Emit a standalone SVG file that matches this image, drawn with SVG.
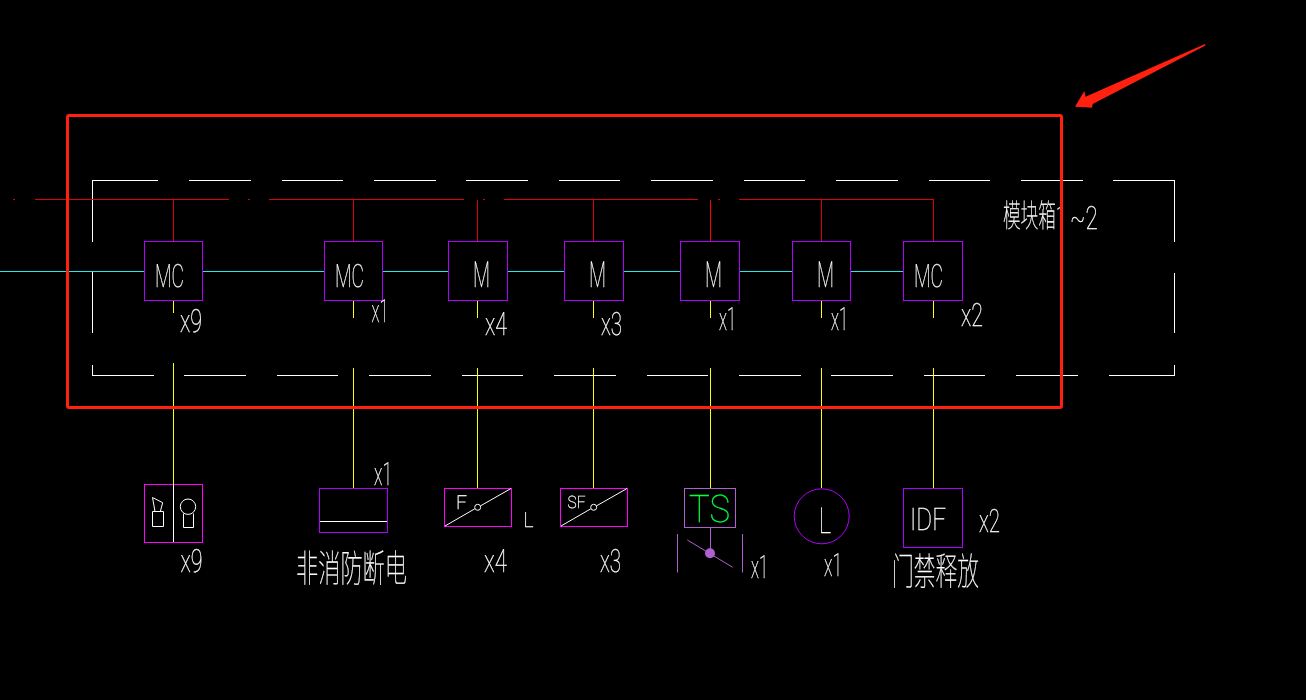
<svg xmlns="http://www.w3.org/2000/svg" width="1306" height="700" viewBox="0 0 1306 700">
<defs><filter id="n" filterUnits="userSpaceOnUse" x="0" y="0" width="1306" height="700" color-interpolation-filters="sRGB"><feOffset dx="0" dy="0"/></filter></defs>
<style>
text{fill:#fff;stroke:#fff;stroke-width:.3px;font-family:Roboto,"Liberation Sans",sans-serif;font-weight:100;text-rendering:geometricPrecision}
.c{font-family:"Noto Sans CJK SC","Noto Sans CJK SC Thin",sans-serif;font-weight:100;font-size:36px}
.t{font-size:32px}
.m{font-size:36px}
.l{fill:none;stroke-width:1;shape-rendering:crispEdges}
.w{stroke:#fff}.r{stroke:#e0000c}.y{stroke:#ff0}.b{stroke:#20e8f0}
.p{fill:none;stroke:#b000ff;shape-rendering:crispEdges}
.g{fill:none;stroke:#ff00ff;shape-rendering:crispEdges}
.s{fill:none;stroke:#fff}
</style>
<rect width="1306" height="700" fill="#000"/>
<g id="module-box" class="l w">
<path d="M92.5 242V180.5H158M189 180.5H251M282 180.5H343M374 180.5H436M466 180.5H528M559 180.5H620M651 180.5H713M744 180.5H805M836 180.5H898M929 180.5H990M1021 180.5H1083M1113 180.5H1174.5V242M1174.5 273V333M1174.5 365V375.5H1109M1078 375.5H1016M985 375.5H924M893 375.5H831M801 375.5H739M708 375.5H647M616 375.5H554M523 375.5H462M431 375.5H369M338 375.5H277M246 375.5H184M154 375.5H92.5V365M92.5 333V272"/>
</g>
<g id="connectors" class="l">
<path class="r" d="M13 199.5H15M35 199.5H229M248 199.5H250M269 199.5H464M483 199.5H485M504 199.5H698M718 199.5H720M739 199.5H933.5V241M173.5 199.5V241M353.5 199.5V241M477.5 200V241M593.5 199.5V241M821.5 199.5V241"/>
<path d="M710.5 200V241" fill="none" stroke="#ff0000" stroke-width="1.4" shape-rendering="crispEdges"/>
<path class="b" d="M0 271.5H144M203 271.5H324M383 271.5H448M508 271.5H564M624 271.5H680M740 271.5H792M851 271.5H903"/>
<path class="y" d="M173.5 300V313M353.5 300V318M477.5 300V318M593.5 300V318M710.5 300V318M821.5 300V318M933.5 300V318M173.5 363V484M353.5 368V488M477.5 368V488M593.5 368V488M710.5 368V488M821.5 368V488M933.5 368V488"/>
</g>
<g filter="url(#n)">
<g id="mc-1"><rect class="p" x="144.5" y="241.5" width="58" height="59"/><text class="t" x="155" y="287" textLength="29" lengthAdjust="spacingAndGlyphs">MC</text><text class="t" x="180" y="332" textLength="22" lengthAdjust="spacingAndGlyphs">x9</text></g>
<g id="mc-2"><rect class="p" x="324.5" y="241.5" width="58" height="59"/><text class="t" x="335" y="287" textLength="29" lengthAdjust="spacingAndGlyphs">MC</text><text class="t" x="371.500" y="322" textLength="17" lengthAdjust="spacingAndGlyphs">x1</text></g>
<g id="m-3"><rect class="p" x="448.500" y="241.5" width="59" height="59"/><text class="m" x="473" y="287" textLength="17" lengthAdjust="spacingAndGlyphs">M</text><text class="t" x="485" y="335" textLength="22" lengthAdjust="spacingAndGlyphs">x4</text></g>
<g id="m-4"><rect class="p" x="564.500" y="241.5" width="59" height="59"/><text class="m" x="589" y="287" textLength="17" lengthAdjust="spacingAndGlyphs">M</text><text class="t" x="601" y="335" textLength="21" lengthAdjust="spacingAndGlyphs">x3</text></g>
<g id="m-5"><rect class="p" x="680.500" y="241.5" width="59" height="59"/><text class="m" x="705" y="287" textLength="17" lengthAdjust="spacingAndGlyphs">M</text><text class="t" x="719" y="330" textLength="17" lengthAdjust="spacingAndGlyphs">x1</text></g>
<g id="m-6"><rect class="p" x="792.500" y="241.5" width="58" height="59"/><text class="m" x="817" y="287" textLength="17" lengthAdjust="spacingAndGlyphs">M</text><text class="t" x="831" y="330" textLength="17" lengthAdjust="spacingAndGlyphs">x1</text></g>
<g id="mc-7"><rect class="p" x="903.500" y="241.5" width="59" height="59"/><text class="t" x="914" y="287" textLength="29" lengthAdjust="spacingAndGlyphs">MC</text><text class="t" x="961" y="326" textLength="22" lengthAdjust="spacingAndGlyphs">x2</text></g>
<g id="module-label"><text class="c" transform="translate(1003,227) scale(.55,1)" style="font-size:32px">模块箱</text><text class="t" transform="translate(1056,229) scale(.5,1)">1</text><text class="t" transform="translate(1070,229) scale(.7,1)">~2</text></g>
<g id="detector">
<rect class="g" x="144.500" y="484.500" width="58" height="58"/>
<path class="l w" d="M173.500 484V542"/>
<path class="s" d="M152.500 497.500L162.700 502.700L160.300 511.500H155ZM152.500 511.500H163.500V526.500H152.500ZM183.500 513.500V527.500H193.500V513.500"/>
<circle class="s" cx="188" cy="506.700" r="7.700"/>
<text class="t" x="180.500" y="572" textLength="22" lengthAdjust="spacingAndGlyphs">x9</text>
</g>
<g id="power-cut">
<rect class="p" x="319.500" y="488.500" width="68" height="44"/>
<path class="l w" d="M320 521.500H387"/>
<text class="t" x="374" y="485" textLength="18" lengthAdjust="spacingAndGlyphs">x1</text>
<text class="c" x="296" y="582" style="font-size:38px" textLength="111" lengthAdjust="spacingAndGlyphs">非消防断电</text>
</g>
<g id="fan">
<rect class="g" x="444.500" y="488.500" width="67" height="38"/>
<path class="s" d="M445 526L474.800 508.800M480.600 505.800L511 488.500"/>
<circle class="s" cx="477.700" cy="507.300" r="3"/>
<text x="456" y="509" font-size="19" textLength="11" lengthAdjust="spacingAndGlyphs">F</text>
<text x="523.500" y="527" font-size="21" textLength="10" lengthAdjust="spacingAndGlyphs">L</text>
<text class="t" x="484" y="572" textLength="23" lengthAdjust="spacingAndGlyphs">x4</text>
</g>
<g id="sf">
<rect class="g" x="560.500" y="488.500" width="67" height="38"/>
<path class="s" d="M561 526L590.800 508.800M596.600 505.800L627 488.500"/>
<circle class="s" cx="593.700" cy="507.300" r="3"/>
<text x="567.500" y="508" font-size="17" textLength="18" lengthAdjust="spacingAndGlyphs">SF</text>
<text class="t" x="600" y="572" textLength="21" lengthAdjust="spacingAndGlyphs">x3</text>
</g>
<g id="ts">
<rect x="684.500" y="488.500" width="51" height="39" fill="none" stroke="#b060d0" shape-rendering="crispEdges"/>
<text x="689" y="522" font-size="38" textLength="41" lengthAdjust="spacingAndGlyphs" style="fill:#00ff40;stroke:#00ff40">TS</text>
<path d="M710.500 527V553M687.300 540L732.700 567.300M677.500 534V572.500M742.500 534V572.500" fill="none" stroke="#b060d0"/>
<circle cx="710" cy="553.300" r="5" fill="#b060d0"/>
<text class="t" x="751" y="578" textLength="17" lengthAdjust="spacingAndGlyphs">x1</text>
</g>
<g id="lamp">
<circle cx="821.700" cy="516.300" r="27.500" fill="none" stroke="#b000ff"/>
<text x="819" y="533" font-size="36" textLength="12" lengthAdjust="spacingAndGlyphs">L</text>
<text class="t" x="824" y="575.500" textLength="18" lengthAdjust="spacingAndGlyphs">x1</text>
</g>
<g id="idf">
<rect class="p" x="903.500" y="488.500" width="59" height="59"/>
<text x="910" y="529.500" font-size="31" textLength="36" lengthAdjust="spacingAndGlyphs">IDF</text>
<text class="t" x="979" y="532" textLength="21" lengthAdjust="spacingAndGlyphs">x2</text>
<text class="c" x="892" y="585" style="font-size:38px" textLength="87" lengthAdjust="spacingAndGlyphs">门禁释放</text>
</g>
</g>
<g id="annotation">
<rect x="67.500" y="115.500" width="994" height="292" rx="1.500" fill="none" stroke="#ff2010" stroke-width="3"/>
<path d="M1075 106.700L1084.300 91L1085.500 96.700L1205 44L1205.500 45.500L1092.700 104L1092 107.700Z" fill="#ff2010"/>
</g>
</svg>
